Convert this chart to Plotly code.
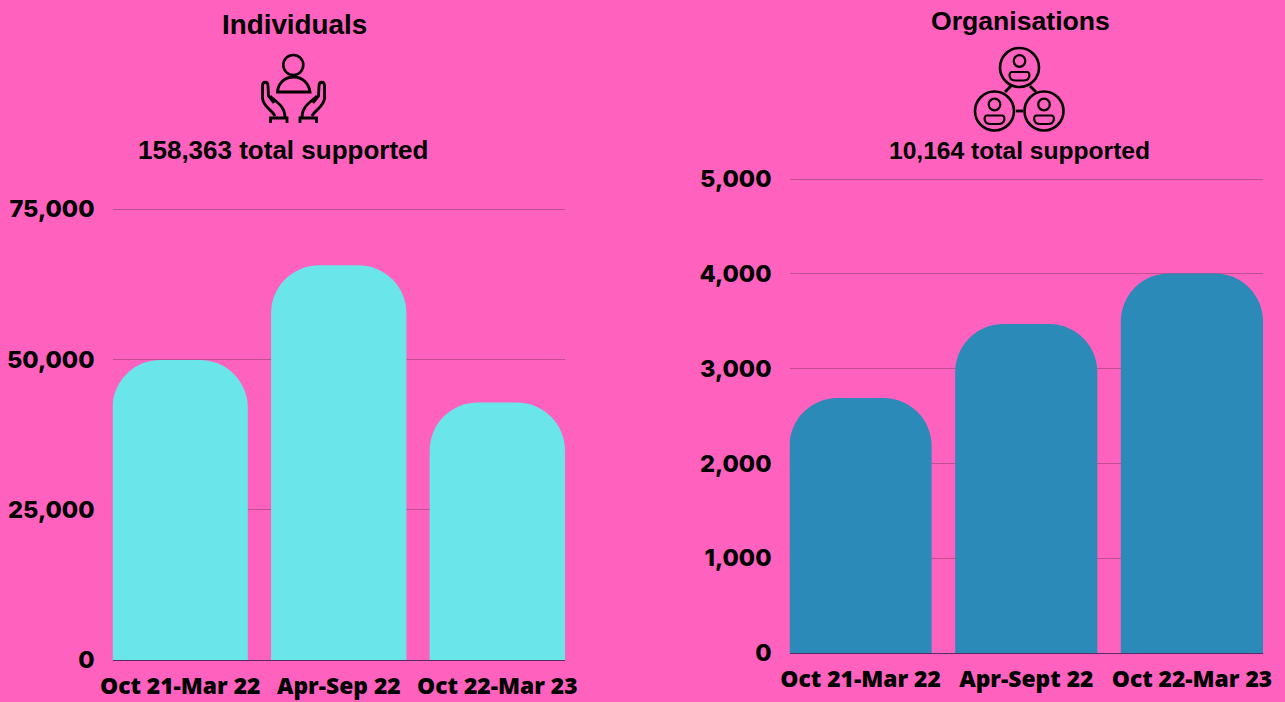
import re
import plotly.graph_objects as go

W, H = 1285, 702
PINK = "#FF61BE"
INK = "#000000"
GRID = "#BF4F8F"

individual_periods = ["Oct 21-Mar 22", "Apr-Sep 22", "Oct 22-Mar 23"]
individual_values = [49900, 65650, 42813]
individual_ticks = [0, 25000, 50000, 75000]
organisation_periods = ["Oct 21-Mar 22", "Apr-Sept 22", "Oct 22-Mar 23"]
organisation_values = [2690, 3470, 4004]
organisation_ticks = [0, 1000, 2000, 3000, 4000, 5000]


def px(s):
    """Convert an SVG path written in page pixels into paper coordinates."""
    toks = re.findall(r"[MLCZ]|-?\d+\.?\d*", s)
    out, isx = [], True
    for t in toks:
        if t in "MLCZ":
            out.append(t)
            isx = True
        else:
            v = float(t)
            out.append(f"{v / W:.5f}" if isx else f"{1 - v / H:.5f}")
            isx = not isx
    return " ".join(out)


def stroke(path, width=2.8):
    return dict(type="path", xref="paper", yref="paper", path=px(path),
                line=dict(color=INK, width=width), fillcolor="rgba(0,0,0,0)", layer="above")


def circle(cx, cy, r, width=2.6):
    return dict(type="circle", xref="paper", yref="paper",
                x0=(cx - r) / W, x1=(cx + r) / W, y0=1 - (cy + r) / H, y1=1 - (cy - r) / H,
                line=dict(color=INK, width=width), fillcolor="rgba(0,0,0,0)", layer="above")


fig = go.Figure()
fig.add_trace(go.Bar(x=[0, 1, 2], y=individual_values, marker=dict(color="#6AE5E9", line_width=0),
                     xaxis="x", yaxis="y", width=0.8535))
fig.add_trace(go.Bar(x=[0, 1, 2], y=organisation_values, marker=dict(color="#2C8AB8", line_width=0),
                     xaxis="x2", yaxis="y2", width=0.858))

xfont = dict(family="Open Sans", size=22.8, color=INK, weight=800)
yfont = dict(family="Inter", size=23.6, color=INK, weight=800)
axis_x = dict(showgrid=False, zeroline=False, showline=True, linecolor="#5a2a60", linewidth=1,
              ticks="", tickfont=xfont, tickmode="array", tickvals=[0, 1, 2], fixedrange=True,
              ticklabelstandoff=6, automargin=False)
axis_y = dict(showgrid=True, gridcolor=GRID, gridwidth=1, zeroline=False, showline=False,
              ticks="", tickfont=yfont, tickmode="array", tickformat=",d",
              ticklabelstandoff=17, fixedrange=True, automargin=False)

shapes = []
# person with hands
shapes += [circle(293.3, 65, 10)]
shapes += [stroke("M 277.5 92 C 278 84 284 77 293.5 77 C 303 77 309 84 310 92 L 277.5 92 Z")]
for m in (1, -1):
    X = (lambda v: v) if m == 1 else (lambda v: 2 * 293.5 - v)
    shapes += [
        stroke(f"M {X(275)} 116 C {X(272)} 110 {X(262.5)} 106 {X(262.5)} 98 L {X(262.5)} 86 "
               f"C {X(262.5)} 81 {X(268)} 81 {X(268)} 86 L {X(268.5)} 96 L {X(274)} 103"),
        stroke(f"M {X(270)} 96 C {X(276)} 102 {X(285)} 106 {X(285)} 117"),
        stroke(f"M {X(270.5)} 123 L {X(270.5)} 118 L {X(287)} 118 L {X(287)} 123"),
    ]
# linked people
for cx, cy in ((1019.5, 67.5), (994.5, 111), (1044, 111)):
    shapes += [circle(cx, cy, 19.5)]
    shapes += [circle(cx, cy - 6.5, 5.8, 2.2)]
    shapes += [stroke(f"M {cx - 8} {cy + 4.5} L {cx + 8} {cy + 4.5} C {cx + 11} {cy + 5} {cx + 11} {cy + 13} {cx + 4} {cy + 13} "
                      f"L {cx - 4} {cy + 13} C {cx - 11} {cy + 13} {cx - 11} {cy + 5} {cx - 8} {cy + 4.5} Z", 2.2)]
shapes += [stroke("M 1011 86 L 1005 92"), stroke("M 1030 86 L 1036 92"), stroke("M 1016 111 L 1023 111")]


def label(text, cx, cy, size):
    return dict(text=f"<b>{text}</b>", xref="paper", yref="paper", x=cx / W, y=1 - cy / H,
                xanchor="center", yanchor="middle", showarrow=False,
                font=dict(family="Liberation Sans", size=size, color=INK))


annotations = [
    label("Individuals", 294, 24.5, 27.8),
    label("158,363 total supported", 283, 150, 26),
    label("Organisations", 1020.5, 21, 26.6),
    label("10,164 total supported", 1019, 150.5, 24.6),
]

# the value axes run a hair past their top tick so that the top gridline is still drawn
fig.update_layout(
    width=W, height=H, autosize=False, showlegend=False,
    margin=dict(l=0, r=0, t=0, b=0), paper_bgcolor=PINK, plot_bgcolor=PINK,
    barcornerradius=48,
    xaxis=dict(axis_x, domain=[112.5 / W, 565 / W], range=[-0.4268, 2.4268], anchor="y",
               ticktext=individual_periods),
    yaxis=dict(axis_y, domain=[1 - 660 / H, 1 - 206 / H], range=[0, 75500], anchor="x",
               tickvals=individual_ticks),
    xaxis2=dict(axis_x, domain=[789.5 / W, 1263 / W], range=[-0.429, 2.429], anchor="y2",
                ticktext=organisation_periods),
    yaxis2=dict(axis_y, domain=[1 - 653 / H, 1 - 176 / H], range=[0, 5032], anchor="x2",
                tickvals=organisation_ticks),
    shapes=shapes, annotations=annotations,
)

fig.write_html("out.html", config={"displayModeBar": False},
               post_script=f"document.body.style.margin='0';document.body.style.background='{PINK}';document.documentElement.style.overflow='hidden';")
